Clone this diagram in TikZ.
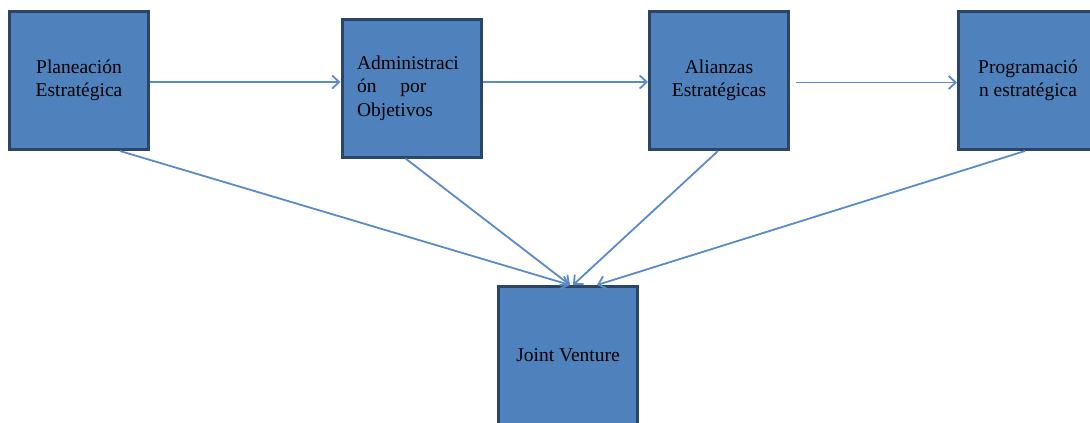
\documentclass[tikz,border=0pt]{standalone}
\usepackage{fontspec}
\setmainfont{Liberation Serif}
\usetikzlibrary{arrows.meta}

\definecolor{boxfill}{HTML}{4F81BD}
\definecolor{boxedge}{HTML}{2A4568}
\definecolor{flowcol}{HTML}{5A8BC8}

\begin{document}
\begin{tikzpicture}[x=1pt, y=-1pt,
        box/.style={draw=boxedge, line width=3pt, fill=boxfill, minimum width=139pt,
            minimum height=138pt, font=\fontsize{19.5}{23.5}\selectfont, align=center},
        flow/.style={->, >={Straight Barb[length=7pt,width=13pt]}, flowcol, line width=1.8pt}]
            \useasboundingbox (0,0) rectangle (1090,423);
            \clip (0,0) rectangle (1090,423);
            
            \node[box] (plan) at (79,80.5) {Planeación\\Estratégica};
            \node[box, align=left, text width=109pt] (admin) at (411.5,88) {Administraci\\ón\hspace{24pt}por\\Objetivos};
            \node[box] (alli) at (719,80.5) {Alianzas\\Estratégicas};
            \node[box] (prog) at (1028,80.5) {Programació\\n estratégica};
            \node[box] (jv) at (568,355.5) {Joint Venture};
            
            \draw[flow] ([yshift=-1.5pt]plan.east) -- ([yshift=-1.5pt]plan.east -| admin.west);
            \draw[flow] ([yshift=-1.5pt]admin.east |- alli.west) -- ([yshift=-1.5pt]alli.west);
            \draw[flow] ([xshift=6pt, yshift=-2pt]alli.east) -- ([yshift=-2pt]prog.west);
            
            \foreach \src/\dx/\tx in {plan/41/2, admin/-6/2, alli/-1/5, prog/-3/29} {
                \draw[flow] ([xshift=\dx pt]\src.south) -- ([xshift=\tx pt]jv.north);
            }
        \end{tikzpicture}
\end{document}
